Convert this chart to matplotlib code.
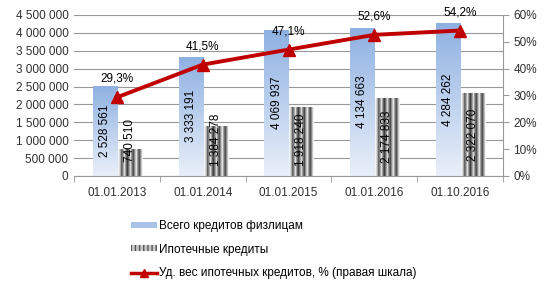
import numpy as np
import matplotlib
matplotlib.use("Agg")
import matplotlib.pyplot as plt
from matplotlib.colors import LinearSegmentedColormap
from matplotlib.patches import Patch
from matplotlib.lines import Line2D

# === data ===
dates = ['01.01.2013', '01.01.2014', '01.01.2015', '01.01.2016', '01.10.2016']
total_loans = [2528561, 3333191, 4069937, 4134663, 4284262]
mortgage = [740510, 1384278, 1918240, 2174833, 2322070]
share_pct = [29.3, 41.5, 47.1, 52.6, 54.2]

plt.rcParams['font.family'] = ['Liberation Sans', 'DejaVu Sans']
text_col = '#303030'
grid_col = '#999999'

fig = plt.figure(figsize=(5.48, 2.88), dpi=100)
ax = fig.add_axes([0.135, 0.389, 0.783, 0.559])
ax2 = ax.twinx()

x = np.arange(len(dates))
w = 0.28

# === bars ===
blue_bars = ax.bar(x - w / 2, total_loans, w, color='#a9c3e8', zorder=2)
gray_bars = ax.bar(x + w / 2 + 0.01, mortgage, w, color='#a0a0a0', zorder=2)

blue_cmap = LinearSegmentedColormap.from_list('b', ['#e9eff9', '#8eb1e2'])
grad = np.linspace(0, 1, 100).reshape(-1, 1)
for p in blue_bars:
    x0, y0 = p.get_x(), p.get_y()
    im = ax.imshow(grad, extent=[x0, x0 + p.get_width(), y0, y0 + p.get_height()],
                   origin='lower', aspect='auto', cmap=blue_cmap, zorder=2)
    im.set_clip_path(p)
    p.set_facecolor('none')

stripes = np.array([[0.95, 0.75, 0.35, 0.6, 0.9, 0.45, 0.25, 0.55, 0.85, 0.5,
                     0.3, 0.65, 0.92, 0.55, 0.3, 0.6, 0.95]])
for p in gray_bars:
    x0, y0 = p.get_x(), p.get_y()
    im = ax.imshow(stripes, extent=[x0, x0 + p.get_width(), y0, y0 + p.get_height()],
                   aspect='auto', cmap='gray', vmin=0, vmax=1, zorder=2,
                   interpolation='bilinear')
    im.set_clip_path(p)
    p.set_facecolor('none')

def fmt(v):
    return f"{v:,}".replace(",", " ")

for xi, v in zip(x, total_loans):
    ax.text(xi - w / 2, v / 2, fmt(v), rotation=90, ha='center', va='center',
            fontsize=8.5, color='black', zorder=4)
for xi, v in zip(x, mortgage):
    ax.text(xi + w / 2 + 0.01, max(v / 2, 1.0e6), fmt(v), rotation=90, ha='center',
            va='center', fontsize=8.5, color='black', zorder=4)

ax.set_xlim(-0.5, len(dates) - 0.5)
ax.set_ylim(0, 4500000)
ax.set_yticks(np.arange(0, 4500001, 500000))
ax.set_yticklabels([fmt(v) for v in range(0, 4500001, 500000)])
ax.yaxis.grid(True, color=grid_col, linewidth=0.8, zorder=0)
ax.set_axisbelow(True)
ax.set_xticks(x)
ax.set_xticklabels(dates)
ax.set_xticks(np.arange(-0.5, len(dates) + 0.5, 1), minor=True)
ax.tick_params(axis='x', which='major', length=0, pad=8, labelsize=8.5, colors=text_col)
ax.tick_params(axis='x', which='minor', length=4, color=grid_col)
ax.tick_params(axis='y', length=0, labelsize=8.5, colors=text_col, pad=4)
for s in ['top', 'right', 'left']:
    ax.spines[s].set_visible(False)
ax.spines['bottom'].set_color(grid_col)

# === line on right axis ===
ax2.plot(x, share_pct, color='#c00000', linewidth=2.8, marker='^', markersize=8.5,
         zorder=5)
for xi, v in zip(x, share_pct):
    ax2.annotate(f"{v:.1f}%".replace('.', ','), (xi, v), xytext=(0, 9),
                 textcoords='offset points', ha='center', va='bottom',
                 fontsize=8.5, color='black')
ax2.set_ylim(0, 60)
ax2.set_yticks(np.arange(0, 61, 10))
ax2.set_yticklabels([f"{v}%" for v in range(0, 61, 10)])
ax2.tick_params(axis='y', length=4, color=grid_col, labelsize=8.5, colors=text_col)
for s in ['top', 'left', 'bottom']:
    ax2.spines[s].set_visible(False)
ax2.spines['right'].set_color(grid_col)

# === legend ===
handles = [
    Patch(facecolor='#a9c3e8', edgecolor='none'),
    Patch(facecolor='#c8c8c8', edgecolor='#555555', hatch='||||', linewidth=0),
    Line2D([0], [0], color='#c00000', linewidth=2.5, marker='^', markersize=6),
]
labels = ['Всего кредитов физлицам', 'Ипотечные кредиты',
          'Уд. вес ипотечных кредитов, % (правая шкала)']
fig.legend(handles, labels, loc='upper left', bbox_to_anchor=(0.228, 0.257),
           frameon=False, fontsize=8.5, handlelength=2.2, handleheight=0.4,
           handletextpad=0.2, labelspacing=1.0, borderpad=0, labelcolor='black')

fig.savefig('out.png', dpi=100)
